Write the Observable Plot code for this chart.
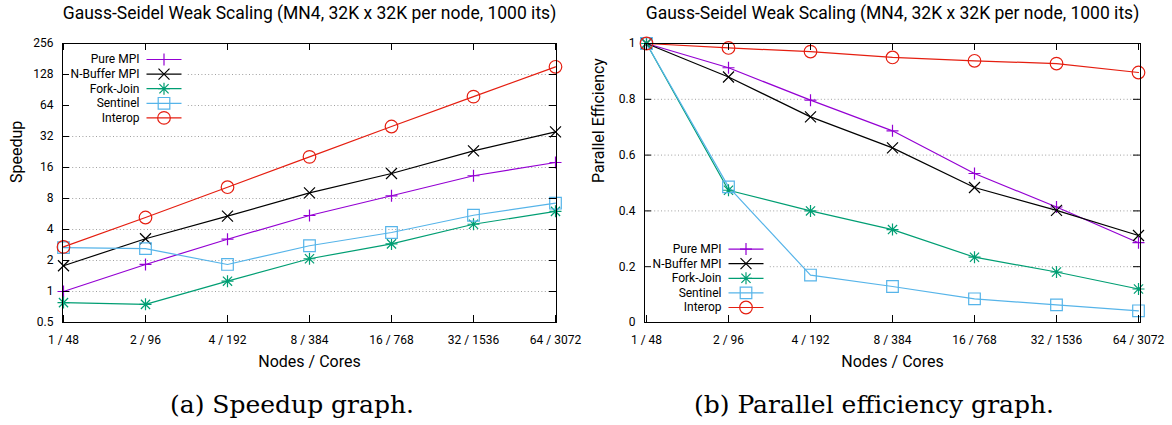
<!DOCTYPE html>
<html><head><meta charset="utf-8">
<script src="https://cdn.jsdelivr.net/npm/d3@7"></script>
<script src="https://cdn.jsdelivr.net/npm/@observablehq/plot@0.6"></script>
<style>
body{margin:0;background:#fff;width:1172px;height:425px;position:relative;overflow:hidden}
#charts{position:absolute;left:0;top:0;display:flex}
.cap{position:absolute;top:390px;font-family:"DejaVu Serif";font-size:25px;line-height:30px;transform:translateX(-50%);white-space:nowrap;color:#000}
</style></head><body>
<div id="charts"></div>
<div class="cap" style="left:292px">(a) Speedup graph.</div>
<div class="cap" style="left:874px">(b) Parallel efficiency graph.</div>
<script>
const title = "Gauss-Seidel Weak Scaling (MN4, 32K x 32K per node, 1000 its)";
const xLabel = "Nodes / Cores";
const categories = ["1 / 48","2 / 96","4 / 192","8 / 384","16 / 768","32 / 1536","64 / 3072"];
const series = ["Pure MPI","N-Buffer MPI","Fork-Join","Sentinel","Interop"];
const colors = ["#9400d3","#000000","#009e73","#56b4e9","#e51e10"];

// (a) Speedup
const speedupPureMPI  = [1.0, 1.83, 3.22, 5.47, 8.5, 13.3, 17.9];
const speedupNBuffer  = [1.78, 3.25, 5.39, 9.07, 14.0, 23.2, 35.5];
const speedupForkJoin = [0.78, 0.75, 1.26, 2.08, 2.9, 4.5, 6.0];
const speedupSentinel = [2.67, 2.61, 1.83, 2.78, 3.74, 5.5, 7.2];
const speedupInterop  = [2.71, 5.23, 10.3, 20.3, 40, 78, 152];
const speedupTicks = [0.5, 1, 2, 4, 8, 16, 32, 64, 128, 256];

// (b) Parallel efficiency
const effPureMPI  = [1, 0.913, 0.797, 0.687, 0.534, 0.414, 0.286];
const effNBuffer  = [1, 0.880, 0.737, 0.626, 0.484, 0.402, 0.312];
const effForkJoin = [1, 0.474, 0.400, 0.333, 0.234, 0.181, 0.120];
const effSentinel = [1, 0.486, 0.170, 0.129, 0.085, 0.063, 0.042];
const effInterop  = [1, 0.984, 0.971, 0.950, 0.938, 0.928, 0.896];
const effTicks = [0, 0.2, 0.4, 0.6, 0.8, 1];

// point symbols (gnuplot style)
const symPlus = {draw(c){c.moveTo(-6,0);c.lineTo(6,0);c.moveTo(0,-6);c.lineTo(0,6);}};
const symTimes = {draw(c){c.moveTo(-5.5,-5.5);c.lineTo(5.5,5.5);c.moveTo(-5.5,5.5);c.lineTo(5.5,-5.5);}};
const symStar = {draw(c){c.moveTo(-6,0);c.lineTo(6,0);c.moveTo(0,-6);c.lineTo(0,6);
  c.moveTo(-4.6,-4.6);c.lineTo(4.6,4.6);c.moveTo(-4.6,4.6);c.lineTo(4.6,-4.6);}};
const symSquare = {draw(c){c.rect(-5.8,-5.8,11.6,11.6);}};
const symCircle = {draw(c){c.moveTo(6.3,0);c.arc(0,0,6.3,0,2*Math.PI);}};
const symbols = [symPlus, symTimes, symStar, symSquare, symCircle];
const symSample = {draw(c){c.moveTo(-17.5,0);c.lineTo(17.5,0);}};
const rectSym = (w,h) => ({draw(c){c.rect(0,0,w,h);}});

function chart({width, marginLeft, marginRight, y, yTicks, values, yLabel, legendTop}) {
  const H = 372, mt = 43, mb = 50;
  const fw = width - marginLeft - marginRight, fh = H - mt - mb;
  const marks = [];
  marks.push(Plot.gridY({ticks: yTicks, stroke: "#a0a0a0", strokeOpacity: 1, strokeDasharray: "1,2.4", strokeWidth: 1}));
  const anchor = legendTop ? "top-left" : "bottom-left";
  marks.push(Plot.dot(["bg"], {frameAnchor: anchor, dx: 1, dy: legendTop ? 8 : -82, symbol: rectSym(123, 74), fill: "white", stroke: "none"}));
  const data = series.map((s, i) => values[i].map((v, j) => ({series: s, x: categories[j], y: v})));
  series.forEach((s, i) => marks.push(Plot.line(data[i], {x: "x", y: "y", stroke: colors[i], strokeWidth: 1.2})));
  series.forEach((s, i) => marks.push(Plot.dot(data[i], {x: "x", y: "y", symbol: symbols[i], stroke: colors[i], fill: "none", strokeWidth: 1.2})));
  series.forEach((s, i) => {
    const dy = legendTop ? 16 + 14.6 * i : -(15 + 14.6 * (series.length - 1 - i));
    marks.push(Plot.text([s], {frameAnchor: anchor, lineAnchor: "middle", dx: 77, dy, textAnchor: "end", fontSize: 12}));
    marks.push(Plot.dot([s], {frameAnchor: anchor, dx: 101.5, dy, symbol: symSample, stroke: colors[i], strokeWidth: 1.2}));
    marks.push(Plot.dot([s], {frameAnchor: anchor, dx: 101.5, dy, symbol: symbols[i], stroke: colors[i], fill: "none", strokeWidth: 1.2}));
  });
  // inward mirrored ticks
  marks.push(Plot.gridX({stroke: "black", strokeOpacity: 1, insetTop: fh - 7}));
  marks.push(Plot.gridX({stroke: "black", strokeOpacity: 1, insetBottom: fh - 7}));
  marks.push(Plot.gridY({ticks: yTicks, stroke: "black", strokeOpacity: 1, insetRight: fw - 7}));
  marks.push(Plot.gridY({ticks: yTicks, stroke: "black", strokeOpacity: 1, insetLeft: fw - 7}));
  marks.push(Plot.frame({stroke: "black", strokeWidth: 1}));
  marks.push(Plot.axisY({ticks: yTicks, tickSize: 0, tickPadding: 9, tickFormat: d => String(d), label: null, fontSize: 12}));
  marks.push(Plot.axisX({tickSize: 0, tickPadding: 13, label: null, fontSize: 12}));
  marks.push(Plot.text([title], {frameAnchor: "top", lineAnchor: "middle", dy: -30, fontSize: 17.5}));
  marks.push(Plot.text([yLabel], {frameAnchor: "left", lineAnchor: "middle", dx: -46, rotate: -90, fontSize: 16}));
  marks.push(Plot.text([xLabel], {frameAnchor: "bottom", lineAnchor: "middle", dy: 39, fontSize: 16}));
  return Plot.plot({
    width, height: H, marginTop: mt, marginBottom: mb, marginLeft, marginRight,
    x: {type: "point", domain: categories, padding: 0},
    y,
    style: {fontFamily: "Roboto", fontSize: "12px", background: "white", color: "black", overflow: "visible"},
    marks
  });
}

const left = chart({
  width: 586, marginLeft: 62, marginRight: 30,
  y: {type: "log", base: 2, domain: [0.5, 256]}, yTicks: speedupTicks,
  values: [speedupPureMPI, speedupNBuffer, speedupForkJoin, speedupSentinel, speedupInterop],
  yLabel: "Speedup", legendTop: true
});
const right = chart({
  width: 586, marginLeft: 58, marginRight: 32,
  y: {type: "linear", domain: [0, 1]}, yTicks: effTicks,
  values: [effPureMPI, effNBuffer, effForkJoin, effSentinel, effInterop],
  yLabel: "Parallel Efficiency", legendTop: false
});
document.getElementById("charts").append(left, right);
</script>
</body></html>
